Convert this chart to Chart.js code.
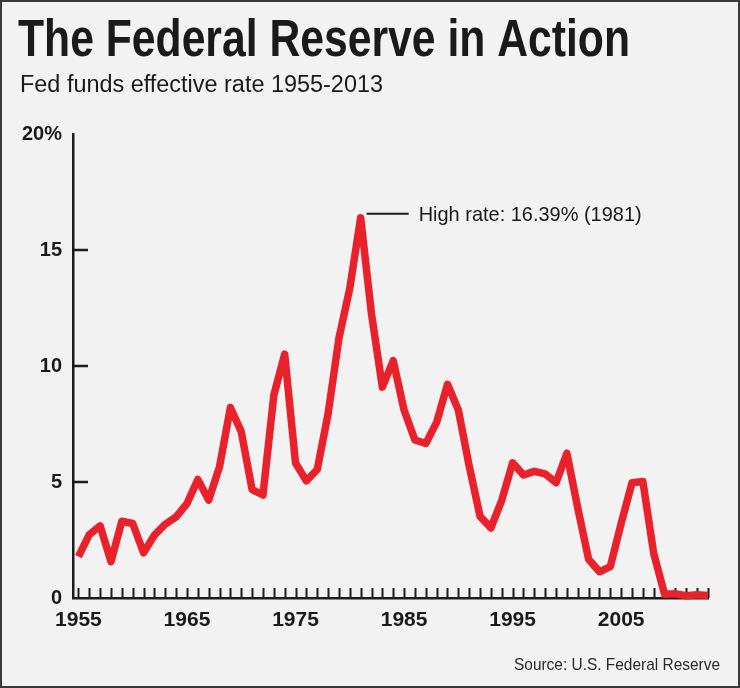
<!DOCTYPE html>
<html lang="en">
<head>
<meta charset="UTF-8">
<title>The Federal Reserve in Action</title>
<script src="https://cdn.jsdelivr.net/npm/chart.js"></script>
<style>
  html, body { margin: 0; padding: 0; background: #f2f2f2; }
  #box { width: 740px; height: 688px; }
  canvas { display: block; }
</style>
</head>
<body>
<div id="box"><canvas id="chart" width="740" height="688"></canvas></div>
<script>
// Fed funds effective rate, annual average (%)
const years = [1955, 1956, 1957, 1958, 1959, 1960, 1961, 1962, 1963, 1964,
               1965, 1966, 1967, 1968, 1969, 1970, 1971, 1972, 1973, 1974,
               1975, 1976, 1977, 1978, 1979, 1980, 1981, 1982, 1983, 1984,
               1985, 1986, 1987, 1988, 1989, 1990, 1991, 1992, 1993, 1994,
               1995, 1996, 1997, 1998, 1999, 2000, 2001, 2002, 2003, 2004,
               2005, 2006, 2007, 2008, 2009, 2010, 2011, 2012, 2013];
const rates = [1.78, 2.73, 3.11, 1.57, 3.31, 3.21, 1.95, 2.71, 3.18, 3.50,
               4.07, 5.11, 4.22, 5.66, 8.21, 7.17, 4.67, 4.44, 8.74, 10.51,
               5.82, 5.05, 5.54, 7.94, 11.20, 13.35, 16.39, 12.24, 9.09, 10.23,
               8.10, 6.81, 6.66, 7.57, 9.21, 8.10, 5.69, 3.52, 3.02, 4.21,
               5.83, 5.30, 5.46, 5.35, 4.97, 6.24, 3.88, 1.67, 1.13, 1.35,
               3.22, 4.97, 5.02, 1.92, 0.16, 0.18, 0.10, 0.14, 0.11];
const xLabelYears = [1955, 1965, 1975, 1985, 1995, 2005];
const yTickValues = [0, 5, 10, 15, 20];
const peakYear = 1981;
const peakRate = 16.39;

const titleText = 'The Federal Reserve in Action';
const subtitleText = 'Fed funds effective rate 1955-2013';
const noteText = 'High rate: 16.39% (1981)';
const sourceText = 'Source: U.S. Federal Reserve';

const sans = '"Liberation Sans", Arial, sans-serif';

// draw text squeezed/stretched to a given width
function fitText(ctx, text, x, y, width, font, align) {
    ctx.save();
    ctx.font = font;
    const w = ctx.measureText(text).width;
    const k = width / w;
    ctx.textBaseline = 'alphabetic';
    ctx.textAlign = 'left';
    const left = align === 'right' ? x - width : x;
    ctx.translate(left, y);
    ctx.scale(k, 1);
    ctx.fillText(text, 0, 0);
    ctx.restore();
}

const decor = {
    id: 'decor',
    beforeDraw(chart) {
        const ctx = chart.ctx;
        ctx.save();
        ctx.fillStyle = '#f2f2f2';
        ctx.fillRect(0, 0, chart.width, chart.height);
        ctx.restore();
    },
    beforeDatasetsDraw(chart) {
        const ctx = chart.ctx;
        const xs = chart.scales.x, ys = chart.scales.y;
        const base = ys.getPixelForValue(0);
        const left = xs.left;
        ctx.save();
        ctx.strokeStyle = '#1c1c1c';
        ctx.lineWidth = 2;
        ctx.beginPath();
        years.forEach(yr => {
            const px = Math.round(xs.getPixelForValue(yr)) + 0.5;
            ctx.moveTo(px, base);
            ctx.lineTo(px, base - 10);
        });
        ctx.stroke();
        ctx.lineWidth = 2.5;
        ctx.beginPath();
        yTickValues.slice(1, -1).forEach(v => {
            const py = Math.round(ys.getPixelForValue(v));
            ctx.moveTo(left, py);
            ctx.lineTo(left + 15, py);
        });
        ctx.stroke();
        ctx.restore();
    },
    afterDraw(chart) {
        const ctx = chart.ctx;
        const xs = chart.scales.x, ys = chart.scales.y;
        ctx.save();
        ctx.fillStyle = '#1a1a1a';
        fitText(ctx, titleText, 18, 56, 612, 'bold 51px ' + sans);
        fitText(ctx, subtitleText, 20, 92, 363, '23px ' + sans);

        // peak annotation
        const px = xs.getPixelForValue(peakYear);
        const py = ys.getPixelForValue(peakRate) - 4;
        ctx.strokeStyle = '#1a1a1a';
        ctx.lineWidth = 2;
        ctx.beginPath();
        ctx.moveTo(px + 6, py);
        ctx.lineTo(px + 48, py);
        ctx.stroke();
        fitText(ctx, noteText, px + 58, py + 7, 223, '21px ' + sans);

        ctx.fillStyle = '#2a2a2a';
        fitText(ctx, sourceText, 720, 670, 206, '17px ' + sans, 'right');

        // frame
        ctx.strokeStyle = '#3a3a3a';
        ctx.lineWidth = 2;
        ctx.strokeRect(1, 1, chart.width - 2, chart.height - 2);
        ctx.restore();
    }
};

new Chart(document.getElementById('chart'), {
    type: 'line',
    data: {
        datasets: [{
            data: years.map((yr, i) => ({ x: yr, y: rates[i] })),
            borderColor: '#e8212b',
            borderWidth: 7.5,
            borderJoinStyle: 'round',
            borderCapStyle: 'butt',
            pointRadius: 0,
            tension: 0,
            clip: false
        }]
    },
    options: {
        responsive: false,
        animation: false,
        events: [],
        layout: { padding: { top: 134, right: 32, left: 0, bottom: 0 } },
        plugins: { legend: { display: false }, tooltip: { enabled: false } },
        scales: {
            x: {
                type: 'linear',
                min: 1954.5,
                max: 2013,
                afterBuildTicks: s => { s.ticks = xLabelYears.map(v => ({ value: v })); },
                afterFit: s => { s.height = 90; },
                grid: { drawOnChartArea: false, drawTicks: false },
                border: { display: true, color: '#1c1c1c', width: 2.5 },
                ticks: {
                    color: '#1a1a1a',
                    padding: 10,
                    maxRotation: 0,
                    autoSkip: false,
                    font: { family: sans, size: 21, weight: 'bold' },
                    callback: v => String(v)
                }
            },
            y: {
                min: 0,
                max: 20,
                afterBuildTicks: s => { s.ticks = yTickValues.map(v => ({ value: v })); },
                afterFit: s => { s.width = 73; },
                grid: { drawOnChartArea: false, drawTicks: false },
                border: { display: true, color: '#1c1c1c', width: 2.5 },
                ticks: {
                    color: '#1a1a1a',
                    padding: 11,
                    autoSkip: false,
                    font: { family: sans, size: 20, weight: 'bold' },
                    callback: v => v === 20 ? '20%' : String(v)
                }
            }
        }
    },
    plugins: [decor]
});
</script>
</body>
</html>
